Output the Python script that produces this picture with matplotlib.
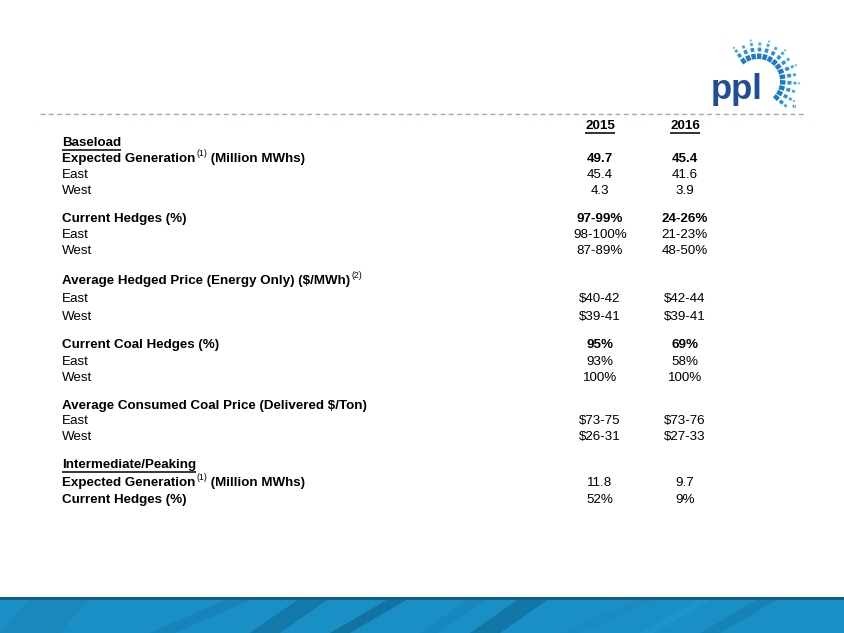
import matplotlib
matplotlib.use("Agg")
import matplotlib.pyplot as plt
import numpy as np
from matplotlib.patches import Polygon

plt.rcParams['font.family'] = ['Liberation Sans', 'DejaVu Sans']

W, H = 844, 633
years = ["2015", "2016"]

labels = ["Baseload",
          "Expected Generation", "East", "West",
          "Current Hedges (%)", "East", "West",
          "Average Hedged Price (Energy Only) ($/MWh)", "East", "West",
          "Current Coal Hedges (%)", "East", "West",
          "Average Consumed Coal Price (Delivered $/Ton)", "East", "West",
          "Intermediate/Peaking",
          "Expected Generation", "Current Hedges (%)"]
supers = ["", "(1)", "", "", "", "", "", "(2)", "", "", "", "", "", "", "", "", "", "(1)", ""]
tails = ["", " (Million MWhs)", "", "", "", "", "", "", "", "", "", "", "", "", "", "", "", " (Million MWhs)", ""]
vals_2015 = ["", "49.7", "45.4", "4.3", "97-99%", "98-100%", "87-89%", "", "$40-42", "$39-41",
             "95%", "93%", "100%", "", "$73-75", "$26-31", "", "11.8", "52%"]
vals_2016 = ["", "45.4", "41.6", "3.9", "24-26%", "21-23%", "48-50%", "", "$42-44", "$39-41",
             "69%", "58%", "100%", "", "$73-76", "$27-33", "", "9.7", "9%"]
label_bold = [1, 1, 0, 0, 1, 0, 0, 1, 0, 0, 1, 0, 0, 1, 0, 0, 1, 1, 1]
value_bold = [0, 1, 0, 0, 1, 0, 0, 0, 0, 0, 1, 0, 0, 0, 0, 0, 0, 0, 0]
underlined = [1, 0, 0, 0, 0, 0, 0, 0, 0, 0, 0, 0, 0, 0, 0, 0, 1, 0, 0]
row_y = [143, 159, 175, 191, 219, 235, 251, 281, 299, 317, 345, 362, 378, 406, 421, 437, 465, 483, 500]

fig = plt.figure(figsize=(W / 100, H / 100), dpi=100)
ax = fig.add_axes([0, 0, 1, 1])
ax.set_xlim(0, W)
ax.set_ylim(H, 0)
ax.axis('off')
fig.canvas.draw()
renderer = fig.canvas.get_renderer()

FS = 9.6
TXT = "#000000"
LX = 62
COLX = [600, 685]


def text_width(t):
    return t.get_window_extent(renderer=renderer).width


def put(x, y, s, bold=False, size=FS, ha='left', va='center', color=TXT):
    return ax.text(x, y, s, fontsize=size, fontweight='bold' if bold else 'normal',
                   color=color, ha=ha, va=va)


def underline(t, y, color=TXT, lw=1.1):
    bb = t.get_window_extent(renderer=renderer)
    ax.plot([bb.x0, bb.x1], [y + 7, y + 7], color=color, lw=lw, solid_capstyle='butt')


for cx, yr in zip(COLX, years):
    t = put(cx, 126, yr, bold=True, ha='center')
    underline(t, 126, color="#333333", lw=1.4)

for i, lab in enumerate(labels):
    y = row_y[i]
    t = put(LX, y, lab, bold=bool(label_bold[i]))
    x = LX + text_width(t)
    if supers[i]:
        ts = put(x + 1, y - 5, supers[i], bold=False, size=6.3)
        x = x + 1 + text_width(ts)
    if tails[i]:
        put(x, y, tails[i], bold=bool(label_bold[i]))
    if underlined[i]:
        underline(t, y)
    put(COLX[0], y, vals_2015[i], bold=bool(value_bold[i]), ha='center')
    put(COLX[1], y, vals_2016[i], bold=bool(value_bold[i]), ha='center')

# dashed separator
ax.plot([40, 806], [114, 114], color="#8fa9cf", lw=1.0, ls=(0, (3.5, 2.5)))

# logo
ax.text(737, 89, "ppl", fontsize=25, fontweight='bold', color="#1f4e96",
        ha='center', va='center', family='Liberation Sans')
ax.text(794, 107, "TM", fontsize=2.5, color="#1f4e96", ha='center', va='center')
cx0, cy0 = 758, 81
angs = np.linspace(126, -42, 14)
segs = [(22, 27.5, 3.2, "#1a7cc6"), (29.5, 33.5, 2.6, "#2a93d6"),
        (35.5, 38.5, 2.0, "#3ba9e3"), (40, 42, 1.4, "#5cbbea")]
for k, a in enumerate(angs):
    ca, sa = np.cos(np.radians(a)), np.sin(np.radians(a))
    nseg = 4 if k % 2 == 0 else 3
    for ra, rb, lw, col in segs[:nseg]:
        ax.plot([cx0 + ra * ca, cx0 + rb * ca], [cy0 - ra * sa, cy0 - rb * sa],
                color=col, lw=lw, solid_capstyle='butt')

# bottom band
band_top = 598
ax.add_patch(Polygon([[0, band_top], [W, band_top], [W, H], [0, H]], color="#1a8fc6", zorder=1, lw=0))
streaks = [(0, 30, 60, "#1b86bb"), (150, 230, 25, "#1682b8"), (250, 300, 30, "#1273a3"),
           (330, 390, 20, "#106d9b"), (420, 470, 18, "#1786bb"), (470, 520, 30, "#11709f"),
           (560, 640, 20, "#1a89bf"), (640, 700, 14, "#2097cc"), (700, 760, 20, "#157fb2")]
for x0, x1, wdt, col in streaks:
    poly = Polygon([[x0, H], [x0 + wdt, H], [x1 + wdt, band_top], [x1, band_top]],
                   closed=True, color=col, alpha=0.8, zorder=2, lw=0)
    ax.add_patch(poly)
ax.add_patch(Polygon([[0, 597], [W, 597], [W, 600], [0, 600]], color="#0d5f86", zorder=3, lw=0))

ax.set_xlim(0, W)
ax.set_ylim(H, 0)
fig.savefig("out.png", dpi=100)
